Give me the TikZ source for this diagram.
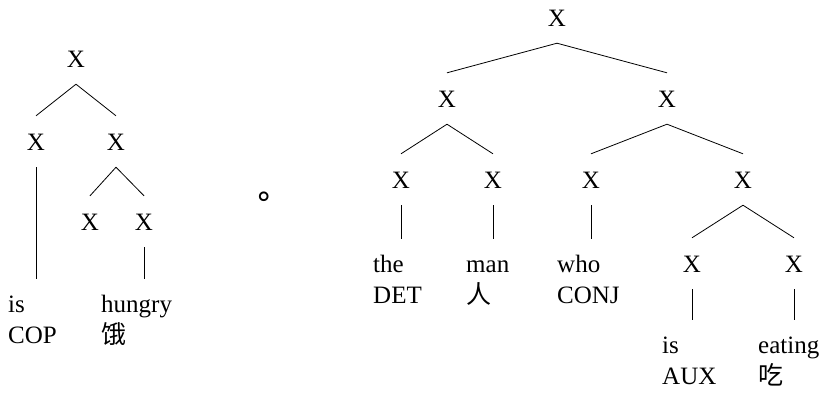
\documentclass[tikz,border=0pt]{standalone}
\usepackage{fontspec}
\setmainfont{Liberation Serif}
\newfontfamily\cjk{Noto Sans CJK SC}
\newfontfamily\symf{DejaVu Sans}
\begin{document}
\begin{tikzpicture}[x=1pt,y=-1pt,
  every node/.style={font=\fontsize{25}{31}\selectfont},
  xn/.style={inner xsep=0pt,inner ysep=17pt,text height=17pt,text depth=0pt,anchor=base},
  word/.style={inner xsep=0pt,inner ysep=16pt,text height=17pt,text depth=0pt,anchor=base west},
  gloss/.style={inner sep=0pt,anchor=base west},
  edge/.style={line width=0.8pt}]
\useasboundingbox (0,0) rectangle (825,392);
% left tree
\node[xn] (l0) at (76,67) {X};
\node[xn] (l1) at (36,150) {X};
\node[xn] (l2) at (116,150) {X};
\node[xn] (l3) at (90,230) {X};
\node[xn] (l4) at (144,230) {X};
\node[word] (lw1) at (8,312) {is};
\node[gloss] (lg1) at (8,343) {COP};
\node[word] (lw2) at (101,312) {hungry};
\node[gloss] (lg2) at (101,343) {\cjk 饿};
\draw[edge] (l0.south) -- (l1.north);
\draw[edge] (l0.south) -- (l2.north);
\draw[edge] (l2.south) -- (l3.north);
\draw[edge] (l2.south) -- (l4.north);
\draw[edge] (l1.south) -- (l1.south |- lw1.north);
\draw[edge] (l4.south) -- (l4.south |- lw2.north);
% separator
\node[inner sep=0pt,font=\fontsize{31}{31}\selectfont] (dot) at (264,199) {\symf ∘};
% right tree
\node[xn] (r0) at (557,26) {X};
\node[xn] (r1) at (447,107) {X};
\node[xn] (r2) at (667,107) {X};
\node[xn] (r3) at (401,188) {X};
\node[xn] (r4) at (493,188) {X};
\node[xn] (r5) at (591,188) {X};
\node[xn] (r6) at (743,188) {X};
\node[xn] (r7) at (692,272) {X};
\node[xn] (r8) at (794,272) {X};
\node[word] (rw1) at (373,272) {the};
\node[gloss] (rg1) at (373,303) {DET};
\node[word] (rw2) at (466,272) {man};
\node[gloss] (rg2) at (466,303) {\cjk 人};
\node[word] (rw3) at (557,272) {who};
\node[gloss] (rg3) at (557,303) {CONJ};
\node[word] (rw4) at (662,353) {is};
\node[gloss] (rg4) at (662,384) {AUX};
\node[word] (rw5) at (758,353) {eating};
\node[gloss] (rg5) at (758,384) {\cjk 吃};
\draw[edge] (r0.south) -- (r1.north);
\draw[edge] (r0.south) -- (r2.north);
\draw[edge] (r1.south) -- (r3.north);
\draw[edge] (r1.south) -- (r4.north);
\draw[edge] (r2.south) -- (r5.north);
\draw[edge] (r2.south) -- (r6.north);
\draw[edge] (r6.south) -- (r7.north);
\draw[edge] (r6.south) -- (r8.north);
\draw[edge] (r3.south) -- (r3.south |- rw1.north);
\draw[edge] (r4.south) -- (r4.south |- rw2.north);
\draw[edge] (r5.south) -- (r5.south |- rw3.north);
\draw[edge] (r7.south) -- (r7.south |- rw4.north);
\draw[edge] (r8.south) -- (r8.south |- rw5.north);
\end{tikzpicture}
\end{document}
